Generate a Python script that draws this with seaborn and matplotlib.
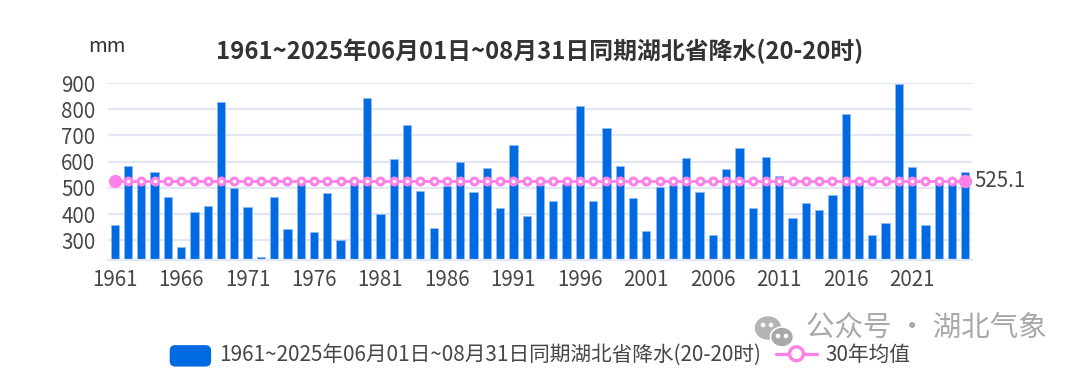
import matplotlib
matplotlib.use('Agg')
import matplotlib.pyplot as plt
from matplotlib.legend_handler import HandlerPatch
from matplotlib.lines import Line2D
from matplotlib.patches import Circle, Ellipse, FancyBboxPatch, Patch
import numpy as np
import pandas as pd
import seaborn as sns

# --- Data ---
years = list(range(1961, 2026))
rain = [358, 584, 522, 560, 465, 274, 410, 431, 828, 499,
        427, 238, 467, 345, 516, 332, 482, 302, 518, 844,
        402, 612, 740, 488, 347, 506, 597, 484, 576, 425,
        663, 393, 512, 451, 516, 811, 451, 730, 584, 460,
        335, 502, 512, 614, 486, 322, 572, 652, 425, 619,
        544, 384, 442, 416, 474, 783, 516, 320, 368, 896,
        579, 358, 516, 516, 562]
avg_30yr = 525.1
y_ticks = [300, 400, 500, 600, 700, 800, 900]
title = '1961~2025年06月01日~08月31日同期湖北省降水(20-20时)'
legend_bar = '1961~2025年06月01日~08月31日同期湖北省降水(20-20时)'
legend_line = '30年均值'

# --- Style ---
BLUE = '#006ae3'
PINK = '#ff80e8'
GRID = '#e3e7f3'
TEXT = '#464646'

sns.set_theme(style='white')
plt.rcParams['font.family'] = ['Noto Sans CJK SC', 'DejaVu Sans']

df = pd.DataFrame({'year': [str(y) for y in years], 'rain': rain})
df['pos'] = np.arange(len(df))
df['avg'] = avg_30yr

fig = plt.figure(figsize=(10.8, 3.75), dpi=100)
ax = fig.add_axes([108 / 1080, 1 - 260.3 / 375, 864 / 1080, 177.3 / 375])

sns.barplot(data=df, x='year', y='rain', color=BLUE, saturation=1, width=0.62,
            edgecolor='#8fbdf2', linewidth=0.6, ax=ax, zorder=2)
sns.lineplot(data=df, x='pos', y='avg', color=PINK, linewidth=2, marker='o',
             markersize=5, markerfacecolor='white', markeredgecolor=PINK,
             markeredgewidth=2.2, ax=ax, zorder=3, errorbar=None)
# the two ends are drawn bigger and filled
sns.scatterplot(data=df.iloc[[0, -1]], x='pos', y='avg', color=PINK, s=92,
                linewidth=0, ax=ax, zorder=4)

ax.set_xlim(-0.5, len(years) - 0.5)
ax.set_ylim(224, 900)
ax.set_yticks(y_ticks)
ax.set_xticks(df['pos'][::5])
ax.set_xticklabels(df['year'][::5])
ax.set_xlabel('')
ax.set_ylabel('')
ax.tick_params(axis='x', length=0, labelsize=14.8, labelcolor=TEXT, pad=6)
ax.tick_params(axis='y', length=0, labelsize=14.8, labelcolor=TEXT, pad=9)
ax.grid(True, axis='y', color=GRID, linewidth=1.6)
ax.set_axisbelow(True)
for side in ['top', 'left', 'right']:
    ax.spines[side].set_visible(False)
ax.spines['bottom'].set_color(GRID)
ax.spines['bottom'].set_linewidth(1.6)

ax.annotate(f'{avg_30yr}', xy=(df['pos'].iloc[-1], avg_30yr), xytext=(6.5, 0),
            textcoords='offset points', va='center', ha='left', fontsize=14.8,
            color=TEXT, annotation_clip=False)

fig.text(540 / 1080, 1 - 51 / 375, title, ha='center', va='center', fontsize=17.2,
         fontweight='bold', color='#333333')
fig.text(107 / 1080, 1 - 47 / 375, 'mm', ha='center', va='center', fontsize=14.5, color='#333333')


# --- Legend ---
class RoundedBar(HandlerPatch):
    def create_artists(self, legend, orig_handle, xdescent, ydescent, width, height, fontsize, trans):
        box = FancyBboxPatch((-xdescent + 3, -ydescent - 1), width - 6, height - 1,
                             boxstyle='round,pad=3,rounding_size=4', facecolor=BLUE,
                             edgecolor='none', transform=trans)
        return [box]


class RingLine(HandlerPatch):
    def create_artists(self, legend, orig_handle, xdescent, ydescent, width, height, fontsize, trans):
        mid_y = -ydescent + height / 2
        line = Line2D([-xdescent, -xdescent + width], [mid_y, mid_y], color=PINK, linewidth=2.4,
                      transform=trans)
        ring = Circle((-xdescent + width / 2, mid_y), 5, facecolor='white', edgecolor=PINK,
                      linewidth=2.4, transform=trans)
        return [line, ring]


bar_handle = Patch(label=legend_bar)
line_handle = Patch(label=legend_line)
fig.legend(handles=[bar_handle, line_handle], loc='center', bbox_to_anchor=(540 / 1080, 1 - 355 / 375),
           ncol=2, frameon=False, fontsize=14.9, labelcolor=TEXT, handlelength=2.0, columnspacing=0.7,
           handletextpad=0.4, borderpad=0,
           handler_map={bar_handle: RoundedBar(), line_handle: RingLine()})

# --- Watermark ---
fig.text(806 / 1080, 1 - 328 / 375, '公众号 · 湖北气象', ha='left', va='center', fontsize=20.5,
         color='#a8a8a8')
icon = fig.add_axes([752 / 1080, 1 - 352 / 375, 48 / 1080, 38 / 375])
icon.set_xlim(0, 48)
icon.set_ylim(38, 0)
icon.axis('off')
icon.patch.set_alpha(0)
icon.add_patch(Ellipse((16, 14), 25, 22, color='#b4b4b4'))
icon.add_patch(Ellipse((30, 23), 23, 20, color='#a8a8a8', ec='white', lw=1.2))
for cx, cy in [(11, 11), (19, 11), (26, 22), (34, 22)]:
    icon.add_patch(Circle((cx, cy), 1.6, color='white'))

fig.savefig('out.png', dpi=100)
